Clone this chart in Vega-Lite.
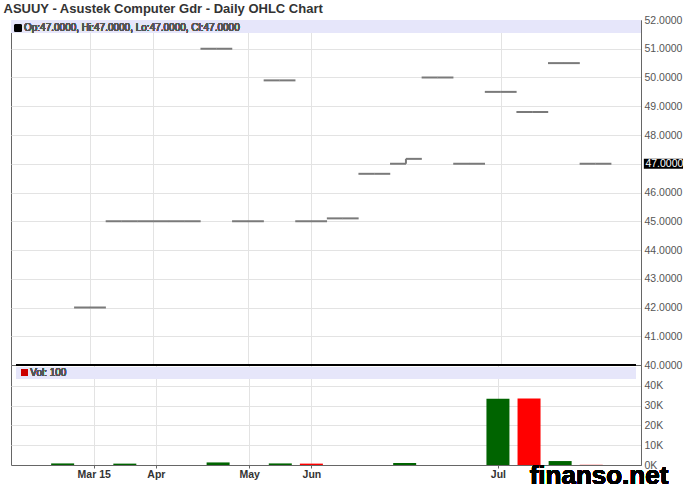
{
  "$schema": "https://vega.github.io/schema/vega-lite/v6.json",
  "padding": {"left": 3, "top": 3, "right": 0, "bottom": 0},
  "background": "white",
  "title": {"text": "ASUUY - Asustek Computer Gdr - Daily OHLC Chart", "anchor": "start", "font": "Liberation Sans", "fontSize": 13, "fontWeight": "bold", "color": "#333333", "dx": -7, "offset": -1.5},
  "datasets": {
    "bars": [
      {"i": -1, "open": null, "high": null, "low": null, "close": null, "vol": 800, "dir": "up"},
      {"i": 0, "open": 42.0, "high": 42.0, "low": 42.0, "close": 42.0, "vol": 0, "dir": "up"},
      {"i": 1, "open": 45.0, "high": 45.0, "low": 45.0, "close": 45.0, "vol": 700, "dir": "up"},
      {"i": 2, "open": 45.0, "high": 45.0, "low": 45.0, "close": 45.0, "vol": 0, "dir": "up"},
      {"i": 3, "open": 45.0, "high": 45.0, "low": 45.0, "close": 45.0, "vol": 0, "dir": "up"},
      {"i": 4, "open": 51.0, "high": 51.0, "low": 51.0, "close": 51.0, "vol": 1300, "dir": "up"},
      {"i": 5, "open": 45.0, "high": 45.0, "low": 45.0, "close": 45.0, "vol": 0, "dir": "down"},
      {"i": 6, "open": 49.9, "high": 49.9, "low": 49.9, "close": 49.9, "vol": 800, "dir": "up"},
      {"i": 7, "open": 45.0, "high": 45.0, "low": 45.0, "close": 45.0, "vol": 700, "dir": "down"},
      {"i": 8, "open": 45.1, "high": 45.1, "low": 45.1, "close": 45.1, "vol": 0, "dir": "up"},
      {"i": 9, "open": 46.65, "high": 46.65, "low": 46.65, "close": 46.65, "vol": 0, "dir": "up"},
      {"i": 10, "open": 47.0, "high": 47.17, "low": 47.0, "close": 47.17, "vol": 1000, "dir": "up"},
      {"i": 11, "open": 50.0, "high": 50.0, "low": 50.0, "close": 50.0, "vol": 0, "dir": "up"},
      {"i": 12, "open": 47.0, "high": 47.0, "low": 47.0, "close": 47.0, "vol": 0, "dir": "down"},
      {"i": 13, "open": 49.5, "high": 49.5, "low": 49.5, "close": 49.5, "vol": 33500, "dir": "up"},
      {"i": 14, "open": 48.8, "high": 48.8, "low": 48.8, "close": 48.8, "vol": 33600, "dir": "down"},
      {"i": 15, "open": 50.5, "high": 50.5, "low": 50.5, "close": 50.5, "vol": 2000, "dir": "up"},
      {"i": 16, "open": 47.0, "high": 47.0, "low": 47.0, "close": 47.0, "vol": 100, "dir": "down"}
    ]
  },
  "spacing": 0,
  "bounds": "flush",
  "vconcat": [
    {
      "width": 630,
      "height": 345,
      "data": {"name": "bars"},
      "encoding": {
        "x": {"field": "i", "type": "quantitative",
          "scale": {"domain": [-2.5, 17.44], "nice": false, "zero": false},
          "axis": {"orient": "bottom", "title": null, "values": [0, 2, 5, 7, 13], "labels": false, "ticks": false, "tickSize": 0, "labelPadding": 0, "domain": false, "grid": true, "gridColor": "#e3e3e3", "minExtent": 0, "maxExtent": 0}},
        "y": {"field": "close", "type": "quantitative",
          "scale": {"domain": [40, 52], "nice": false, "zero": false},
          "axis": {"orient": "right", "title": null, "values": [40, 41, 42, 43, 44, 45, 46, 47, 48, 49, 50, 51, 52], "format": ".4f", "labelOverlap": false, "grid": true, "gridColor": "#e3e3e3", "tickSize": 0, "tickColor": "#666666", "labelPadding": 3, "labelFont": "Liberation Sans", "labelFontSize": 10.5, "labelColor": "#555555", "domainColor": "#666666"}}
      },
      "layer": [
        {
          "mark": {"type": "rect", "color": "#e6e6fa"},
          "encoding": {
            "x": {"datum": -2.5, "type": "quantitative"},
            "x2": {"datum": 17.44},
            "y": {"datum": 52, "type": "quantitative"},
            "y2": {"datum": 51.548}
          }
        },
        {
          "transform": [{"filter": "datum.open != null"}],
          "mark": {"type": "rule", "color": "#7a7a7a", "strokeWidth": 2},
          "encoding": {
            "y": {"field": "low", "type": "quantitative"},
            "y2": {"field": "high"}
          }
        },
        {
          "transform": [{"filter": "datum.open != null"}],
          "mark": {"type": "tick", "orient": "horizontal", "color": "#7a7a7a", "size": 16, "thickness": 2, "xOffset": -7.9, "opacity": 1},
          "encoding": {
            "y": {"field": "open", "type": "quantitative"}
          }
        },
        {
          "transform": [{"filter": "datum.open != null"}],
          "mark": {"type": "tick", "orient": "horizontal", "color": "#7a7a7a", "size": 16, "thickness": 2, "xOffset": 7.9, "opacity": 1}
        },
        {
          "mark": {"type": "point", "shape": "square", "filled": true, "color": "#000000", "size": 42, "opacity": 1},
          "encoding": {
            "x": {"datum": -2.278, "type": "quantitative"},
            "y": {"datum": 51.72, "type": "quantitative"}
          }
        },
        {
          "mark": {"type": "text", "text": "Op:47.0000, Hi:47.0000, Lo:47.0000, Cl:47.0000", "align": "left", "baseline": "middle", "font": "Liberation Sans", "fontSize": 10, "color": "#555555"},
          "encoding": {
            "x": {"datum": -2.089, "type": "quantitative"},
            "y": {"datum": 51.72, "type": "quantitative"}
          }
        },
        {
          "transform": [{"filter": "datum.i == 16"}],
          "mark": {"type": "rect", "color": "#000000", "yOffset": -5, "y2Offset": 5, "clip": false},
          "encoding": {
            "x": {"datum": 17.53, "type": "quantitative"},
            "x2": {"datum": 18.77},
            "y2": {"field": "close"}
          }
        },
        {
          "transform": [{"filter": "datum.i == 16"}],
          "mark": {"type": "text", "align": "left", "baseline": "middle", "font": "Liberation Sans", "fontSize": 10.5, "color": "#ffffff", "clip": false},
          "encoding": {
            "x": {"datum": 17.58, "type": "quantitative"},
            "text": {"field": "close", "type": "quantitative", "format": ".4f"}
          }
        }
      ]
    },
    {
      "width": 630,
      "height": 100,
      "data": {"name": "bars"},
      "encoding": {
        "x": {"field": "i", "type": "quantitative",
          "scale": {"domain": [-2.5, 17.44], "nice": false, "zero": false},
          "axis": {"orient": "bottom", "title": null, "values": [0, 2, 5, 7, 13],
            "labelExpr": "datum.value == 0 ? 'Mar 15' : datum.value == 2 ? 'Apr' : datum.value == 5 ? 'May' : datum.value == 7 ? 'Jun' : 'Jul'",
            "labelFont": "Liberation Sans", "labelFontSize": 10.5, "labelFontWeight": "bold", "labelColor": "#333333", "tickSize": 3, "tickColor": "#666666", "labelPadding": 1, "domainColor": "#666666", "grid": true, "gridColor": "#e3e3e3"}},
        "y": {"field": "vol", "type": "quantitative",
          "scale": {"domain": [0, 50600], "nice": false, "zero": true},
          "axis": {"orient": "right", "title": null, "values": [0, 10000, 20000, 30000, 40000], "labelExpr": "(datum.value / 1000) + 'K'", "labelOverlap": false, "grid": true, "gridColor": "#e3e3e3", "tickSize": 0, "tickColor": "#666666", "labelPadding": 3, "labelFont": "Liberation Sans", "labelFontSize": 10.5, "labelColor": "#555555", "domainColor": "#666666"}}
      },
      "layer": [
        {
          "mark": {"type": "rect", "color": "#e6e6fa"},
          "encoding": {
            "x": {"datum": -2.5, "type": "quantitative"},
            "x2": {"datum": 17.44},
            "y": {"datum": 49400, "type": "quantitative"},
            "y2": {"datum": 43700}
          }
        },
        {
          "mark": {"type": "rule", "color": "#000000", "strokeWidth": 2},
          "encoding": {
            "x": {"datum": -2.5, "type": "quantitative"},
            "x2": {"datum": 17.44},
            "y": {"datum": 50600, "type": "quantitative"}
          }
        },
        {
          "transform": [{"filter": "datum.vol > 0"}],
          "mark": {"type": "bar", "size": 23},
          "encoding": {
            "color": {"field": "dir", "type": "nominal", "scale": {"domain": ["up", "down"], "range": ["#006400", "#ff0000"]}, "legend": null}
          }
        },
        {
          "mark": {"type": "point", "shape": "square", "filled": true, "color": "#cc0000", "size": 42, "opacity": 1},
          "encoding": {
            "x": {"datum": -2.231, "type": "quantitative"},
            "y": {"datum": 46800, "type": "quantitative"}
          }
        },
        {
          "mark": {"type": "text", "text": "Vol: 100", "align": "left", "baseline": "middle", "font": "Liberation Sans", "fontSize": 10, "color": "#555555"},
          "encoding": {
            "x": {"datum": -2.041, "type": "quantitative"},
            "y": {"datum": 46800, "type": "quantitative"}
          }
        },
        {
          "mark": {"type": "text", "text": "finanso.net", "align": "left", "baseline": "alphabetic", "font": "Liberation Sans", "fontSize": 26, "fontWeight": "bold", "color": "#000000", "clip": false},
          "encoding": {
            "x": {"datum": 14.02, "type": "quantitative"},
            "y": {"datum": -9600, "type": "quantitative"}
          }
        }
      ]
    }
  ],
  "config": {
    "view": {"stroke": "#666666", "strokeWidth": 1},
    "font": "Liberation Sans"
  }
}
